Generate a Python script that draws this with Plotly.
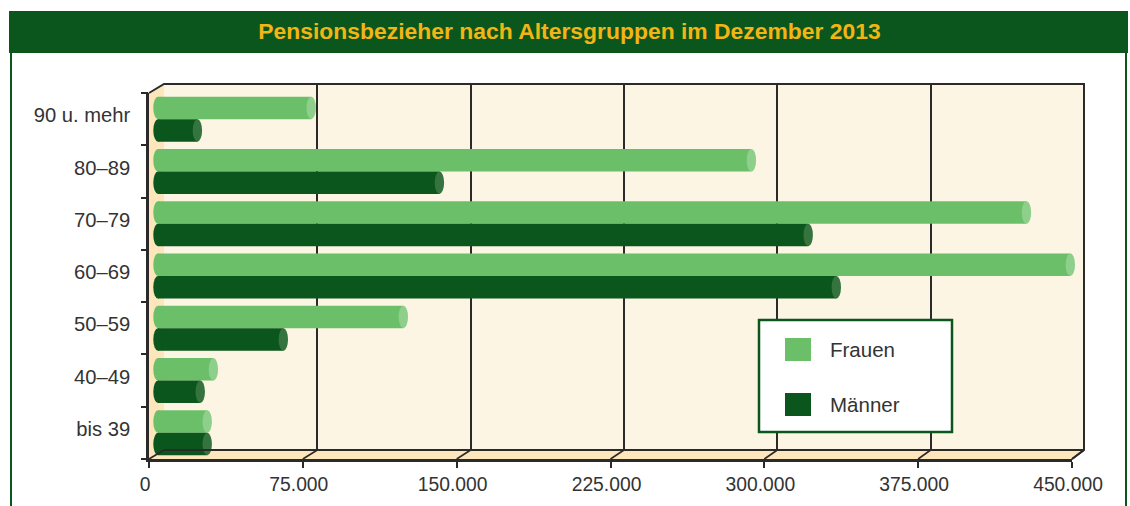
import plotly.graph_objects as go

categories = ["bis 39", "40–49", "50–59", "60–69", "70–79", "80–89", "90 u. mehr"]
frauen = [24000, 27000, 119600, 444800, 423400, 289300, 74700]
maenner = [24000, 20600, 61100, 330700, 317000, 137200, 19200]
x_ticks = [0, 75000, 150000, 225000, 300000, 375000, 450000]
x_labels = ["0", "75.000", "150.000", "225.000", "300.000", "375.000", "450.000"]
title = "Pensionsbezieher nach Altersgruppen im Dezember 2013"
legend_names = ["Frauen", "Männer"]

W, H = 1130, 506
GREEN = "#0B561D"
LIGHT = "#6BBF69"
LIGHT_CAP = "#8FCF8C"
DARK_CAP = "#36743F"
WALL = "#FDF5E4"
SIDE = "#FDE5BC"
INK = "#2B2A29"
TXT = "#333333"
FONT = "Liberation Sans"
BAR_W = 0.43
XMAX = 450000


def px(x):
    return x / W


def py(y):
    return 1 - y / H


def poly(points, fill="rgba(0,0,0,0)", line=None, width=0, layer="above"):
    path = "M" + " L".join(f"{px(a):.5f},{py(b):.5f}" for a, b in points)
    return dict(type="path", xref="paper", yref="paper", path=path + " Z" if fill != "rgba(0,0,0,0)" else path,
                fillcolor=fill, line=dict(color=line or "rgba(0,0,0,0)", width=width), layer=layer)


def rect(x0, y0, x1, y1, fill, line=None, width=0, layer="above"):
    return dict(type="rect", xref="paper", yref="paper", x0=px(x0), x1=px(x1), y0=py(y0), y1=py(y1),
                fillcolor=fill, line=dict(color=line or "rgba(0,0,0,0)", width=width), layer=layer)


positions = list(range(len(categories)))

fig = go.Figure()
# wall subplot: holds back gridlines only
fig.add_trace(go.Scatter(x=[0], y=[0], xaxis="x", yaxis="y", mode="markers", marker=dict(opacity=0), hoverinfo="skip", showlegend=False))
fig.add_trace(go.Bar(y=positions, x=frauen, name=legend_names[0], orientation="h", width=BAR_W, offset=0,
                     marker=dict(color=LIGHT, line=dict(width=0)), xaxis="x3", yaxis="y2", showlegend=False))
fig.add_trace(go.Bar(y=positions, x=maenner, name=legend_names[1], orientation="h", width=BAR_W, offset=-BAR_W,
                     marker=dict(color=GREEN, line=dict(width=0)), xaxis="x3", yaxis="y2", showlegend=False))

shapes = [
    rect(164, 84, 1084, 450, WALL, layer="below"),
    poly([(149, 93), (164, 84), (164, 450), (149, 459)], fill=SIDE, layer="below"),
    poly([(149, 459), (164, 450), (1084, 450), (1072, 459)], fill=SIDE, layer="below"),
]

# cylinder caps, placed by the data values
for p, f, m in zip(positions, frauen, maenner):
    for val, lo, hi, body, cap in [(f, p, p + BAR_W, LIGHT, LIGHT_CAP), (m, p - BAR_W, p, GREEN, DARK_CAP)]:
        for anchor, colour in [(0, body), (val, cap)]:
            shapes.append(dict(type="circle", xref="x3", yref="y2", xsizemode="pixel", xanchor=anchor,
                               x0=-4.7, x1=4.7, y0=lo, y1=hi, fillcolor=colour, line=dict(width=0)))

# 3D frame
shapes.append(poly([(149, 93), (164, 84), (1084, 84), (1084, 450), (1072, 459)], line=INK, width=2))
shapes.append(poly([(164, 450), (1084, 450)], line=INK, width=2))
for t in x_ticks:
    fx = 149 + 923 * t / XMAX
    bx = 164 + 920 * t / XMAX
    shapes.append(poly([(fx, 459), (bx, 450)], line=INK, width=1.6))

# legend box
shapes.append(rect(759, 320, 952, 432, "white", line=GREEN, width=2.5))
shapes.append(rect(785, 338, 811, 361, LIGHT))
shapes.append(rect(785, 393, 811, 416, GREEN))

# banner and side rules
shapes.append(rect(9, 11, 1128, 53, "#0B561D"))
shapes.append(rect(10, 53, 12, 506, GREEN))
shapes.append(rect(1125, 53, 1127, 506, GREEN))

annotations = [
    dict(text=legend_names[0], xref="paper", yref="paper", x=px(828), y=py(349), xanchor="left", yanchor="middle",
         showarrow=False, font=dict(family=FONT, size=20.5, color=TXT)),
    dict(text=legend_names[1], xref="paper", yref="paper", x=px(828), y=py(404), xanchor="left", yanchor="middle",
         showarrow=False, font=dict(family=FONT, size=20.5, color=TXT)),
]

x3_start = -9 * XMAX / 923

fig.update_layout(
    template=None,
    width=W, height=H, autosize=False,
    margin=dict(l=0, r=0, t=0, b=0, pad=0),
    paper_bgcolor="white", plot_bgcolor="rgba(0,0,0,0)",
    barmode="overlay", showlegend=False,
    shapes=shapes, annotations=annotations,
    title=dict(text=f"<b>{title}</b>", x=px(569.5), y=py(31), xref="paper", yref="paper", xanchor="center", yanchor="middle",
               font=dict(family=FONT, size=22.9, color="#F2B514")),
    font=dict(family=FONT, color=TXT),
    # back wall gridlines
    xaxis=dict(domain=[px(164), px(1084)], range=[0, XMAX], tickvals=x_ticks, showgrid=True, gridcolor=INK, gridwidth=2,
               showticklabels=False, ticks="", zeroline=False, showline=False, anchor="y", automargin=False),
    yaxis=dict(domain=[py(450), py(84)], range=[0, 1], showgrid=False, showticklabels=False, ticks="", zeroline=False,
               anchor="x", automargin=False),
    # front axes
    xaxis2=dict(domain=[px(149), px(1072)], range=[0, XMAX], tickvals=x_ticks, ticktext=x_labels, ticks="outside", ticklen=6,
                tickwidth=2, tickcolor=INK, showline=True, linecolor=INK, linewidth=2.5, showgrid=False, zeroline=False,
                tickfont=dict(family=FONT, size=19.3, color=TXT), ticklabelshift=-4, anchor="y2", ticklabelstandoff=0,
                automargin=False),
    yaxis2=dict(domain=[py(459), py(93)], range=[-0.5, 6.5], tickvals=positions,
                ticktext=categories, ticks="", showline=True, linecolor=INK, linewidth=2.5, showgrid=False, zeroline=False,
                tickfont=dict(family=FONT, size=20.2, color=TXT), anchor="x2", ticklabelstandoff=12, ticklabelshift=-4,
                automargin=False),
    # bars sit a few pixels into the depth
    xaxis3=dict(domain=[px(149), px(1081)], range=[x3_start, XMAX], visible=False, anchor="y2", automargin=False),
    yaxis3=dict(domain=[py(459), py(93)], range=[-0.5, 6.5], tickvals=[i - 0.5 for i in range(8)], showticklabels=False,
                ticks="outside", ticklen=7, tickwidth=2, tickcolor=INK, showline=False, showgrid=False, zeroline=False,
                overlaying="y2", anchor="x2", side="left", automargin=False),
)
fig.add_trace(go.Scatter(x=[0], y=[0], xaxis="x2", yaxis="y3", mode="markers", marker=dict(opacity=0), hoverinfo="skip", showlegend=False))

fig.write_html("out.html", config=dict(displayModeBar=False),
               post_script="document.body.style.margin='0';document.body.style.overflow='hidden';")
